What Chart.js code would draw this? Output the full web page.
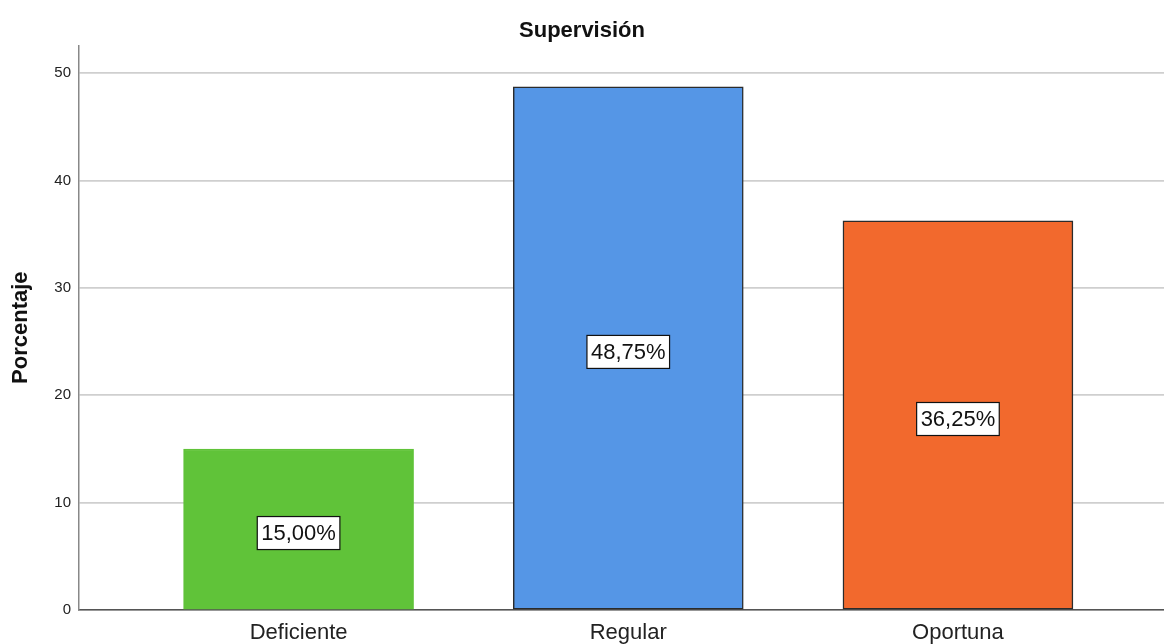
<!DOCTYPE html>
<html lang="es">

<head>
    <meta charset="UTF-8">
    <title>Supervisión</title>
    <script src="https://cdn.jsdelivr.net/npm/chart.js"></script>
    <style>
        body { margin: 0; background: #fff; }
        canvas { display: block; }
    </style>
</head>

<body>
    <canvas id="supChart" width="1164" height="644"></canvas>

    <script>
        // values in percent
        const categories = ['Deficiente', 'Regular', 'Oportuna'];
        const percentages = [15.00, 48.75, 36.25];
        const barColors = ['#60C339', '#5596E6', '#F2692D'];
        const barBorders = ['#60C339', '#2b2b2b', '#2b2b2b'];
        const yTicks = [0, 10, 20, 30, 40, 50];

        const font = "Arial, 'Liberation Sans', sans-serif";

        // white boxes with the percent written in the middle of each bar
        const valueBoxes = {
            id: 'valueBoxes',
            afterDatasetsDraw(chart) {
                const ctx = chart.ctx;
                const meta = chart.getDatasetMeta(0);
                ctx.save();
                ctx.font = '22px ' + font;
                ctx.textAlign = 'center';
                ctx.textBaseline = 'middle';
                meta.data.forEach(function(bar, i) {
                    const text = percentages[i].toFixed(2).replace('.', ',') + '%';
                    const cy = (bar.y + bar.base) / 2 + 4;
                    const w = ctx.measureText(text).width + 8;
                    const h = 33;
                    ctx.fillStyle = '#fff';
                    ctx.fillRect(bar.x - w / 2, cy - h / 2, w, h);
                    ctx.strokeStyle = '#111';
                    ctx.lineWidth = 1.2;
                    ctx.strokeRect(bar.x - w / 2, cy - h / 2, w, h);
                    ctx.fillStyle = '#111';
                    ctx.fillText(text, bar.x, cy + 1);
                });
                ctx.restore();
            }
        };

        new Chart(document.getElementById('supChart'), {
            type: 'bar',
            data: {
                datasets: [{
                    data: percentages.map((v, i) => ({ x: i, y: v })),
                    backgroundColor: barColors,
                    borderColor: barBorders,
                    borderWidth: 1.5,
                    borderSkipped: false,
                    barThickness: 230
                }]
            },
            options: {
                responsive: false,
                animation: false,
                layout: { padding: 0 },
                plugins: {
                    legend: { display: false },
                    tooltip: { enabled: false },
                    title: {
                        display: true,
                        text: 'Supervisión',
                        color: '#111',
                        font: { family: font, size: 22, weight: 'bold' },
                        padding: { top: 18, bottom: 1 }
                    }
                },
                scales: {
                    x: {
                        type: 'linear',
                        offset: false,
                        min: -0.666,
                        max: 2.625,
                        grid: { display: false, drawTicks: false },
                        border: { color: '#555', width: 1.5 },
                        afterBuildTicks: function(scale) {
                            scale.ticks = categories.map((c, i) => ({ value: i }));
                        },
                        afterFit: function(scale) { scale.height = 34; },
                        ticks: {
                            padding: 10,
                            color: '#222',
                            font: { family: font, size: 22 },
                            callback: (v) => categories[v]
                        }
                    },
                    y: {
                        min: 0,
                        max: 52.6,
                        grid: { color: '#cfcfcf', lineWidth: 1.8, drawTicks: false },
                        border: { color: '#888', width: 1.5 },
                        afterBuildTicks: function(scale) {
                            scale.ticks = yTicks.map(v => ({ value: v }));
                        },
                        afterFit: function(scale) { scale.width = 79; },
                        ticks: {
                            padding: 8,
                            color: '#222',
                            font: { family: font, size: 15 }
                        },
                        title: {
                            display: true,
                            text: 'Porcentaje',
                            color: '#111',
                            font: { family: font, size: 22, weight: 'bold' },
                            padding: { top: 8, bottom: 0 }
                        }
                    }
                }
            },
            plugins: [valueBoxes]
        });
    </script>
</body>

</html>
